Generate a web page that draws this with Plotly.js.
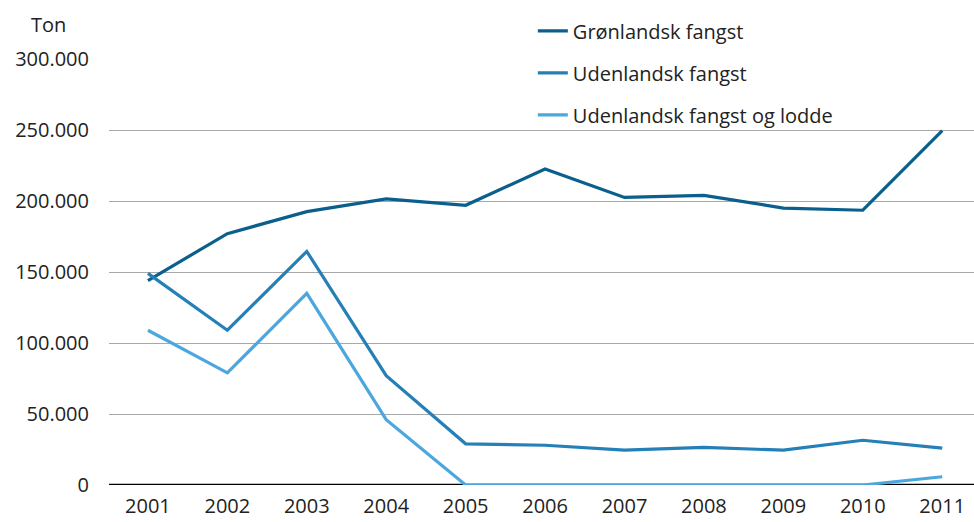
<!DOCTYPE html>
<html>
<head>
<meta charset="utf-8">
<script src="https://cdn.plot.ly/plotly-3.0.1.min.js"></script>
<style>html,body{margin:0;padding:0;background:#fff;}#chart{width:974px;height:522px;}</style>
</head>
<body>
<div id="chart"></div>
<script>
var years = [2001, 2002, 2003, 2004, 2005, 2006, 2007, 2008, 2009, 2010, 2011];
var gronlandsk = [144000, 177000, 192500, 201500, 197000, 222500, 202500, 204000, 195000, 193500, 249500];
var udenlandsk = [149000, 109000, 164500, 77000, 29000, 28000, 24500, 26500, 24500, 31500, 26000];
var udenlandskLodde = [109000, 79000, 135000, 46000, 0, 0, 0, 0, 0, 0, 5800];
var seriesNames = ["Grønlandsk fangst", "Udenlandsk fangst", "Udenlandsk fangst og lodde"];
var yTicks = [0, 50000, 100000, 150000, 200000, 250000, 300000];

var font = "Open Sans, DejaVu Sans, sans-serif";
function tr(y, name, color, g) {
  return {x: years, y: y, name: name, type: "scatter", mode: "lines",
    line: {color: color, width: 3.2}, legendgroup: g, hoverinfo: "skip"};
}
var data = [
  tr(gronlandsk, seriesNames[0], "#0b5f8c", "a"),
  tr(udenlandsk, seriesNames[1], "#2580b8", "b"),
  tr(udenlandskLodde, seriesNames[2], "#4ba7de", "c")
];
var layout = {
  width: 974, height: 522,
  margin: {l: 109, r: 0, t: 59, b: 37, pad: 0},
  paper_bgcolor: "#fff", plot_bgcolor: "#fff",
  separators: ",.",
  font: {family: font, size: 20, color: "#222"},
  showlegend: true,
  legend: {x: 0.49, y: 1.112, xanchor: "left", yanchor: "top", traceorder: "grouped",
    tracegroupgap: 13, font: {family: font, size: 20, color: "#222"}, bgcolor: "rgba(0,0,0,0)"},
  xaxis: {range: [2000.51, 2011.4], tickvals: years, ticktext: years.map(String),
    showgrid: false, zeroline: false, showline: false, ticks: "outside", ticklen: 3,
    tickcolor: "rgba(0,0,0,0)", tickfont: {family: font, size: 20, color: "#222"}, fixedrange: true},
  yaxis: {range: [0, 300000], tickvals: yTicks, tickformat: ",", showgrid: true,
    gridcolor: "#a8a8a8", gridwidth: 1, zeroline: false, showline: false,
    ticks: "outside", ticklen: 15, tickcolor: "rgba(0,0,0,0)",
    tickfont: {family: font, size: 20, color: "#222"}, fixedrange: true},
  shapes: [{type: "line", xref: "paper", yref: "y", x0: 0, x1: 1, y0: 0, y1: 0,
    layer: "below", line: {color: "#000", width: 2.5}}],
  annotations: [{text: "Ton", xref: "paper", yref: "paper", x: -0.0705, y: 1.082,
    xanchor: "center", yanchor: "middle", showarrow: false,
    font: {family: font, size: 20, color: "#222"}}]
};
Plotly.newPlot("chart", data, layout, {staticPlot: true, displayModeBar: false});
</script>
</body>
</html>
